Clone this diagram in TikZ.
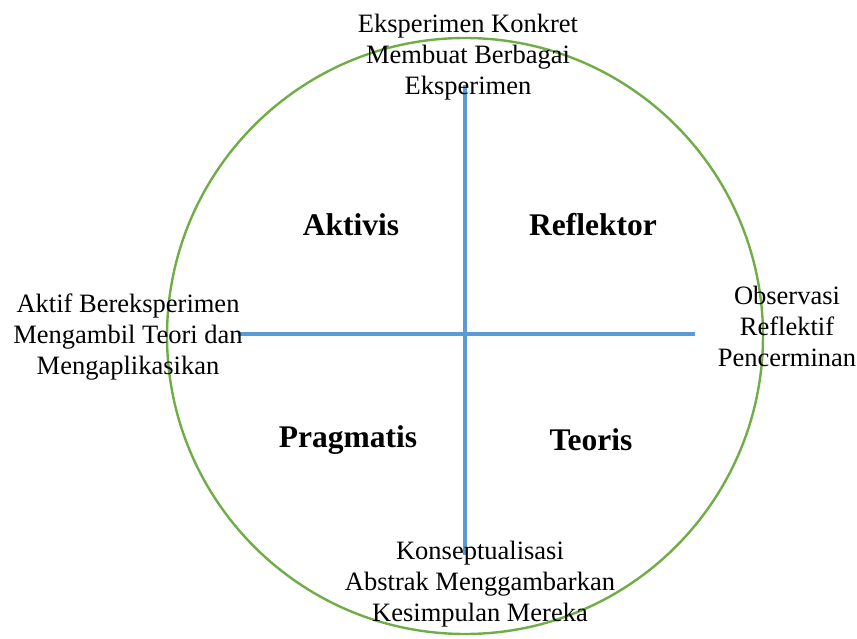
\documentclass[tikz,border=0pt]{standalone}
\usepackage{fontspec}
\setmainfont{Liberation Serif}
\begin{document}
\begin{tikzpicture}[x=1pt,y=-1pt,
    axis/.style={line width=3.5pt,color=axisblue},
    pole/.style={align=center,font=\fontsize{26.5}{31}\selectfont},
    style/.style={font=\fontsize{31.5}{36}\selectfont\bfseries}]
        \definecolor{axisblue}{RGB}{91,155,213}
        \definecolor{ringgreen}{RGB}{112,173,71}
        \useasboundingbox (0,0) rectangle (857,639);

        \node[circle,draw=ringgreen,line width=2.4pt,minimum size=596pt,inner sep=0pt] (ring) at (465,336) {};

        \coordinate (top) at (465,85);
        \coordinate (bottom) at (465,555);
        \coordinate (left) at (238,334);
        \coordinate (right) at (695,334);
        \draw[axis] (top) -- (bottom);
        \draw[axis] (left) -- (right);

        \node[style] (aktivis) at (351,225) {Aktivis};
        \node[style] (reflektor) at (593,225) {Reflektor};
        \node[style] (pragmatis) at (348,440) {Pragmatis};
        \node[style] (teoris) at (591,440) {Teoris};

        \node[pole] (konkret) at (468,57) {Eksperimen Konkret\\Membuat Berbagai\\Eksperimen};
        \node[pole] (aktif) at (128,337) {Aktif Bereksperimen\\Mengambil Teori dan\\Mengaplikasikan};
        \node[pole] (observasi) at (787,326) {Observasi\\Reflektif\\Pencerminan};
        \node[pole] (abstrak) at (480,584) {Konseptualisasi\\Abstrak Menggambarkan\\Kesimpulan Mereka};
    \end{tikzpicture}
\end{document}
